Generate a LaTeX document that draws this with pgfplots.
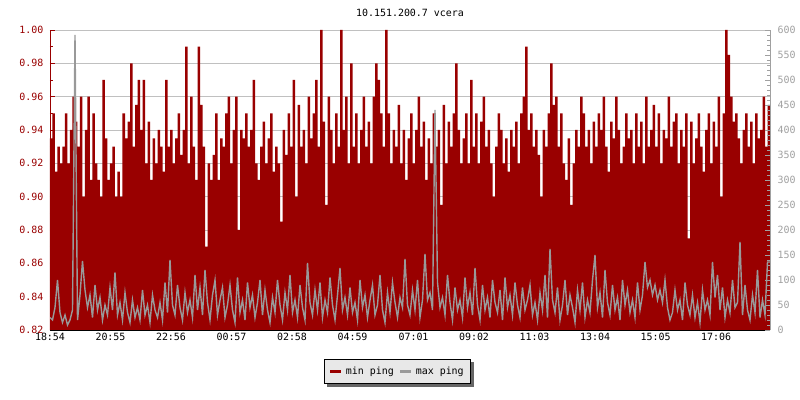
\documentclass[border=0pt]{standalone}
\usepackage{fontspec}
\setmainfont{DejaVu Sans Mono}
\setmonofont{DejaVu Sans Mono}
\usepackage{pgfplots}
\usepackage{pgfplotstable}
\pgfplotsset{compat=1.18}
\usetikzlibrary{backgrounds}
\definecolor{dkred}{HTML}{990000}
\definecolor{maxgray}{HTML}{999999}
\definecolor{gridgray}{HTML}{C0C0C0}
\definecolor{rgray}{HTML}{A0A0A0}
\definecolor{legfill}{HTML}{E8E8E8}
\definecolor{shadowgray}{HTML}{666666}

\pgfplotstableread[row sep=\\]{
mn mx \\
0.935 25 \\ 0.95 20 \\ 0.915 45 \\ 0.93 100 \\ 0.92 35 \\ 0.93 15 \\ 0.95 30 \\ 0.92 10 \\ 0.94 20 \\ 0.96 40 \\ 0.945 590 \\ 0.93 20 \\
0.96 70 \\ 0.90 138 \\ 0.94 80 \\ 0.96 45 \\ 0.91 70 \\ 0.95 25 \\ 0.92 90 \\ 0.91 40 \\ 0.90 65 \\ 0.97 20 \\ 0.935 50 \\ 0.91 30 \\
0.92 85 \\ 0.93 40 \\ 0.90 115 \\ 0.915 30 \\ 0.90 55 \\ 0.95 20 \\ 0.935 75 \\ 0.945 35 \\ 0.98 15 \\ 0.93 60 \\ 0.955 25 \\ 0.97 45 \\
0.94 20 \\ 0.97 80 \\ 0.92 30 \\ 0.945 50 \\ 0.91 15 \\ 0.935 70 \\ 0.92 40 \\ 0.94 25 \\ 0.93 55 \\ 0.915 20 \\ 0.97 95 \\ 0.93 35 \\
0.94 140 \\ 0.92 50 \\ 0.935 30 \\ 0.95 90 \\ 0.925 45 \\ 0.94 20 \\ 0.99 75 \\ 0.92 35 \\ 0.96 60 \\ 0.93 25 \\ 0.91 110 \\ 0.99 40 \\
0.955 85 \\ 0.93 30 \\ 0.87 120 \\ 0.92 55 \\ 0.91 20 \\ 0.925 70 \\ 0.95 100 \\ 0.91 30 \\ 0.935 60 \\ 0.93 85 \\ 0.95 25 \\ 0.96 50 \\
0.92 90 \\ 0.94 40 \\ 0.96 15 \\ 0.88 105 \\ 0.94 35 \\ 0.935 60 \\ 0.95 20 \\ 0.93 95 \\ 0.94 45 \\ 0.97 70 \\ 0.92 25 \\ 0.91 55 \\
0.93 100 \\ 0.945 30 \\ 0.92 80 \\ 0.935 40 \\ 0.95 15 \\ 0.915 65 \\ 0.93 35 \\ 0.92 100 \\ 0.885 50 \\ 0.94 20 \\ 0.925 75 \\ 0.95 40 \\
0.93 110 \\ 0.97 35 \\ 0.90 60 \\ 0.955 25 \\ 0.93 90 \\ 0.94 45 \\ 0.92 20 \\ 0.96 134 \\ 0.935 55 \\ 0.95 30 \\ 0.97 80 \\ 0.93 40 \\
1.00 95 \\ 0.945 25 \\ 0.895 60 \\ 0.96 35 \\ 0.94 105 \\ 0.92 50 \\ 0.95 20 \\ 0.93 70 \\ 1.00 124 \\ 0.94 40 \\ 0.96 65 \\ 0.92 30 \\
0.98 85 \\ 0.93 35 \\ 0.95 55 \\ 0.92 20 \\ 0.94 100 \\ 0.96 45 \\ 0.93 70 \\ 0.945 25 \\ 0.92 60 \\ 0.96 90 \\ 0.98 30 \\ 0.97 50 \\
0.95 110 \\ 0.93 40 \\ 1.00 15 \\ 0.95 75 \\ 0.92 35 \\ 0.94 95 \\ 0.93 55 \\ 0.955 25 \\ 0.92 65 \\ 0.94 45 \\ 0.91 142 \\ 0.935 50 \\
0.95 30 \\ 0.92 80 \\ 0.94 40 \\ 0.96 100 \\ 0.93 25 \\ 0.945 60 \\ 0.91 152 \\ 0.935 60 \\ 0.92 75 \\ 0.95 40 \\ 0.93 440 \\ 0.94 95 \\
0.895 45 \\ 0.955 65 \\ 0.92 30 \\ 0.945 110 \\ 0.93 55 \\ 0.95 20 \\ 0.98 85 \\ 0.94 40 \\ 0.92 60 \\ 0.935 25 \\ 0.95 105 \\ 0.92 45 \\
0.97 75 \\ 0.93 30 \\ 0.95 124 \\ 0.92 50 \\ 0.945 20 \\ 0.96 90 \\ 0.93 40 \\ 0.94 65 \\ 0.92 25 \\ 0.90 100 \\ 0.93 55 \\ 0.95 35 \\
0.94 80 \\ 0.92 20 \\ 0.935 105 \\ 0.915 45 \\ 0.94 70 \\ 0.93 30 \\ 0.945 95 \\ 0.92 50 \\ 0.95 25 \\ 0.96 85 \\ 0.99 40 \\ 0.94 60 \\
0.95 90 \\ 0.93 30 \\ 0.94 55 \\ 0.925 20 \\ 0.90 75 \\ 0.94 40 \\ 0.93 110 \\ 0.95 25 \\ 0.98 162 \\ 0.955 60 \\ 0.96 35 \\ 0.93 85 \\
0.95 20 \\ 0.92 50 \\ 0.91 100 \\ 0.935 30 \\ 0.895 70 \\ 0.92 45 \\ 0.94 15 \\ 0.93 80 \\ 0.96 40 \\ 0.95 95 \\ 0.93 25 \\ 0.94 60 \\
0.92 35 \\ 0.945 100 \\ 0.93 150 \\ 0.95 45 \\ 0.94 75 \\ 0.96 25 \\ 0.93 120 \\ 0.915 55 \\ 0.945 30 \\ 0.935 90 \\ 0.96 40 \\ 0.94 65 \\
0.92 20 \\ 0.93 100 \\ 0.95 50 \\ 0.935 80 \\ 0.94 35 \\ 0.92 60 \\ 0.95 25 \\ 0.93 95 \\ 0.945 40 \\ 0.92 70 \\ 0.96 136 \\ 0.93 85 \\
0.94 100 \\ 0.955 70 \\ 0.93 90 \\ 0.95 60 \\ 0.92 80 \\ 0.94 55 \\ 0.935 100 \\ 0.96 45 \\ 0.93 20 \\ 0.945 35 \\ 0.95 80 \\ 0.92 40 \\
0.94 60 \\ 0.93 20 \\ 0.95 95 \\ 0.875 50 \\ 0.945 30 \\ 0.92 70 \\ 0.935 25 \\ 0.95 55 \\ 0.93 15 \\ 0.915 80 \\ 0.94 40 \\ 0.95 60 \\
0.92 30 \\ 0.945 136 \\ 0.93 65 \\ 0.96 110 \\ 0.90 40 \\ 0.95 85 \\ 1.00 25 \\ 0.985 60 \\ 0.96 35 \\ 0.945 100 \\ 0.95 45 \\ 0.935 55 \\
0.92 176 \\ 0.94 30 \\ 0.95 90 \\ 0.93 40 \\ 0.945 20 \\ 0.92 70 \\ 0.95 35 \\ 0.935 120 \\ 0.94 25 \\ 0.96 60 \\ 0.93 30 \\ 0.955 136 \\
0.955 136 \\
}\pingdata

\begin{document}
\begin{tikzpicture}[font=\fontsize{10}{12}\selectfont]
\begin{axis}[
  at={(0,0)}, anchor=south west,
  scale only axis, width=720bp, height=300bp,
  xmin=0, xmax=1440, ymin=0.82, ymax=1.00,
  axis y line*=left, axis x line*=bottom,
  x axis line style={black, line width=0.8bp, -},
  y axis line style={dkred, line width=0.8bp, -},
  xtick={0,121,242,363,484,605,727,848,969,1090,1211,1332},
  xticklabels={18:54,20:55,22:56,00:57,02:58,04:59,07:01,09:02,11:03,13:04,15:05,17:06},
  ytick={0.82,0.84,0.86,0.88,0.90,0.92,0.94,0.96,0.98,1.00},
  minor ytick={0.83,0.85,0.87,0.89,0.91,0.93,0.95,0.97,0.99},
  major tick length=5bp, minor tick length=3bp,
  x tick style={black, line width=0.8bp},
  y tick style={dkred, line width=0.8bp},
  yticklabel style={dkred, xshift=-3bp},
  xticklabel style={black},
  /pgf/number format/assume math mode=true,
  yticklabel={\pgfmathprintnumber[fixed, fixed zerofill, precision=2]{\tick}},
  ymajorgrids, grid style={gridgray, line width=0.8bp},
  title={10.151.200.7 vcera},
  title style={yshift=4bp},
]
\addplot[const plot, fill=dkred, draw=none] table[x expr=\coordindex*5, y=mn]{\pingdata} \closedcycle;
\end{axis}
\begin{axis}[
  at={(0,0)}, anchor=south west,
  scale only axis, width=720bp, height=300bp,
  xmin=0, xmax=1440, ymin=0, ymax=600,
  axis y line*=right, axis x line=none,
  y axis line style={rgray, line width=0.8bp, -},
  ytick={0,50,100,150,200,250,300,350,400,450,500,550,600},
  minor y tick num=4,
  major tick length=5bp, minor tick length=3bp,
  y tick style={rgray, line width=0.8bp},
  yticklabel style={rgray, xshift=4bp},
  /pgf/number format/assume math mode=true,
  legend columns=-1,
  legend image code/.code={\draw[#1, line width=3bp] (0bp,0bp) -- (11bp,0bp);},
  legend style={name=lgd, at={(0.483,-0.097)}, anchor=north, fill=legfill, draw=black,
    line width=0.8bp, inner xsep=4bp, inner ysep=4.5bp,
    nodes={inner sep=3bp},
    /tikz/every even column/.append style={column sep=2bp}},
]
\addlegendimage{dkred}
\addlegendentry{min ping}
\addplot[sharp plot, maxgray, line width=1.4bp] table[x expr=\coordindex*5, y=mx]{\pingdata};
\addlegendentry{max ping\hspace{18bp}}
\end{axis}
\begin{pgfonlayer}{background}
\fill[shadowgray] ([xshift=3bp,yshift=-3bp]lgd.south west) rectangle ([xshift=3bp,yshift=-3bp]lgd.north east);
\end{pgfonlayer}
\pgfresetboundingbox
\path[use as bounding box] (-50bp,-70bp) rectangle (750bp,330bp);
\end{tikzpicture}
\end{document}
